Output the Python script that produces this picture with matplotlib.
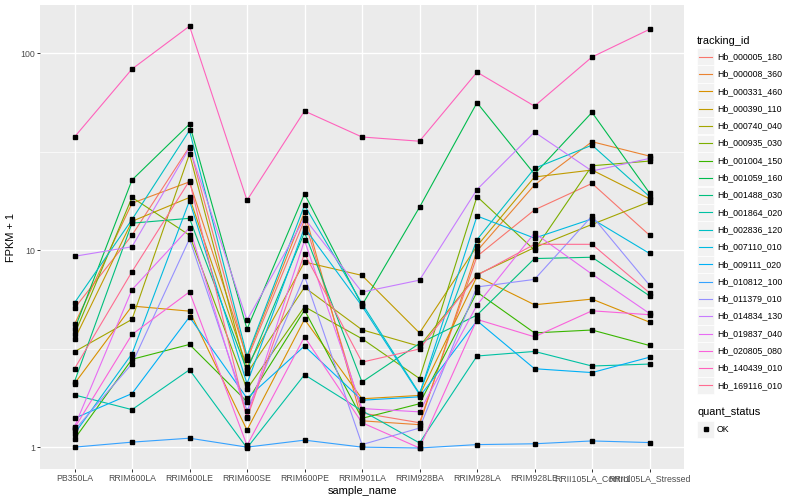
import matplotlib.pyplot as plt
from matplotlib.patches import Rectangle
from matplotlib.lines import Line2D
from matplotlib.ticker import FixedLocator, NullFormatter

plt.rcParams['font.family'] = ['Liberation Sans', 'DejaVu Sans']

samples = ['PB350LA', 'RRIM600LA', 'RRIM600LE', 'RRIM600SE', 'RRIM600PE', 'RRIM901LA',
           'RRIM928BA', 'RRIM928LA', 'RRIM928LE', 'RRII105LA_Control', 'RRII105LA_Stressed']

# FPKM + 1 per gene, in sample order
hb_000005_180 = [5.07, 11.9, 33.5, 2.77, 14.2, 1.49, 1.33, 9.3, 16, 21.8, 11.9]
hb_000008_360 = [4.2, 17.3, 22.2, 2.85, 15.6, 1.36, 1.30, 9.9, 21.4, 35.5, 30]
hb_000331_460 = [2.1, 5.2, 4.9, 1.22, 4.45, 1.76, 1.83, 7.35, 5.28, 5.64, 4.31]
hb_000390_110 = [3.52, 14.0, 18.5, 2.55, 8.7, 7.44, 3.8, 10.5, 23.5, 25.5, 18.2]
hb_000740_040 = [3.05, 4.45, 30.8, 2.37, 6.47, 3.94, 3.25, 7.5, 10.3, 13.5, 17.6]
hb_000935_030 = [3.74, 18.5, 11.9, 1.97, 5.16, 3.55, 2.23, 18.7, 10.0, 26.8, 28.3]
hb_001004_150 = [1.10, 2.79, 3.32, 1.70, 4.96, 1.40, 1.66, 6.12, 3.8, 3.93, 3.28]
hb_001059_160 = [3.96, 22.7, 43.6, 3.97, 19.3, 5.25, 16.5, 56, 24.3, 50, 19.5]
hb_001488_030 = [2.15, 13.7, 14.5, 2.45, 12.3, 2.14, 3.36, 4.68, 9.06, 9.2, 5.86]
hb_001864_020 = [1.84, 1.55, 2.47, 0.99, 2.33, 1.53, 1.05, 2.9, 3.06, 2.58, 2.64]
hb_002836_120 = [5.4, 14.3, 40.5, 2.9, 16.9, 5.36, 1.87, 11.3, 26, 34.1, 18.7]
hb_007110_010 = [1.17, 2.98, 17.8, 2.1, 13.0, 5.2, 1.85, 14.9, 11.5, 14.4, 9.62]
hb_009111_020 = [1.40, 1.87, 4.58, 1.77, 3.26, 1.73, 1.80, 4.38, 2.5, 2.39, 2.86]
hb_010812_100 = [1.0, 1.06, 1.11, 1.0, 1.085, 1.0, 0.99, 1.03, 1.04, 1.075, 1.055]
hb_011379_010 = [1.22, 2.65, 11.4, 1.53, 7.38, 1.03, 1.25, 6.5, 7.1, 14.9, 6.64]
hb_014834_130 = [9.3, 10.4, 33.0, 4.41, 14.5, 6.12, 7.04, 20.3, 39.7, 25.2, 29.2]
hb_019837_040 = [1.27, 6.3, 13.0, 1.43, 11.2, 1.57, 1.51, 5.26, 12.2, 7.55, 4.77]
hb_020805_080 = [1.25, 3.73, 6.14, 1.02, 3.63, 1.33, 0.99, 4.45, 3.63, 4.92, 4.7]
hb_140439_010 = [37.5, 83, 137, 17.9, 50.8, 37.5, 35.7, 80, 53.8, 95.5, 132]
hb_169116_010 = [2.5, 7.77, 22.5, 1.40, 9.6, 2.7, 3.15, 7.45, 10.7, 10.7, 6.07]

tracking_ids = ['Hb_000005_180', 'Hb_000008_360', 'Hb_000331_460', 'Hb_000390_110',
                'Hb_000740_040', 'Hb_000935_030', 'Hb_001004_150', 'Hb_001059_160',
                'Hb_001488_030', 'Hb_001864_020', 'Hb_002836_120', 'Hb_007110_010',
                'Hb_009111_020', 'Hb_010812_100', 'Hb_011379_010', 'Hb_014834_130',
                'Hb_019837_040', 'Hb_020805_080', 'Hb_140439_010', 'Hb_169116_010']
series = [hb_000005_180, hb_000008_360, hb_000331_460, hb_000390_110, hb_000740_040,
          hb_000935_030, hb_001004_150, hb_001059_160, hb_001488_030, hb_001864_020,
          hb_002836_120, hb_007110_010, hb_009111_020, hb_010812_100, hb_011379_010,
          hb_014834_130, hb_019837_040, hb_020805_080, hb_140439_010, hb_169116_010]

# ggplot hue palette, 20 colours
colors = ['#F8766D', '#EA8331', '#D89000', '#C09B00', '#A3A500', '#7CAE00', '#39B600',
          '#00BB4E', '#00BF7D', '#00C1A3', '#00BFC4', '#00BAE0', '#00B0F6', '#35A2FF',
          '#9590FF', '#C77CFF', '#E76BF3', '#FA62DB', '#FF62BC', '#FF6C91']

W, H = 800, 500
fig = plt.figure(figsize=(8, 5), dpi=100)
ax = fig.add_axes([40 / W, 31 / H, 644 / W, 464 / H])
ax.set_facecolor('#EBEBEB')
for s in ax.spines.values():
    s.set_visible(False)

x = list(range(len(samples)))
for vals, col in zip(series, colors):
    ax.plot(x, vals, color=col, lw=0.8, zorder=2)
for vals in series:
    ax.plot(x, vals, linestyle='none', marker='s', ms=2.5, color='black', zorder=3)

ax.set_yscale('log')
ax.set_ylim(10 ** -0.111, 10 ** 2.244)
ax.set_xlim(-0.6, len(samples) - 0.4)
ax.yaxis.set_major_locator(FixedLocator([1, 10, 100]))
ax.yaxis.set_minor_locator(FixedLocator([10 ** 0.5, 10 ** 1.5]))
ax.yaxis.set_minor_formatter(NullFormatter())
ax.set_yticklabels(['1', '10', '100'])
ax.set_xticks(x)
ax.set_xticklabels(samples)

ax.grid(which='major', color='white', lw=1.0)
ax.grid(which='minor', axis='y', color='white', lw=0.5)
ax.set_axisbelow(True)
ax.tick_params(which='major', length=2, width=0.7, color='#333333',
               labelsize=6.3, labelcolor='#4D4D4D', pad=1.5)
ax.tick_params(which='minor', length=0)

ax.set_xlabel('sample_name', fontsize=7.9, labelpad=2)
ax.set_ylabel('FPKM + 1', fontsize=7.9, labelpad=3)


def fx(px):
    return px / W


def fy(py):
    return 1 - py / H


fig.text(fx(697), fy(40.7), 'tracking_id', fontsize=7.9, va='center')
for i, (name, col) in enumerate(zip(tracking_ids, colors)):
    yc = 56.7 + i * 17.3
    fig.add_artist(Rectangle((fx(697), fy(yc + 8.5)), 17 / W, 17 / H,
                             transform=fig.transFigure, facecolor='#F2F2F2',
                             edgecolor='white', lw=0.5))
    fig.add_artist(Line2D([fx(699), fx(712)], [fy(yc), fy(yc)], color=col, lw=0.8,
                          transform=fig.transFigure))
    fig.text(fx(717), fy(yc), name, fontsize=6.3, va='center')

fig.text(fx(697), fy(412), 'quant_status', fontsize=7.9, va='center')
fig.add_artist(Rectangle((fx(697), fy(429 + 8.5)), 17 / W, 17 / H,
                         transform=fig.transFigure, facecolor='#F2F2F2',
                         edgecolor='white', lw=0.5))
fig.add_artist(Line2D([fx(705.5)], [fy(429)], marker='s', ms=2.5, color='black',
                      linestyle='none', transform=fig.transFigure))
fig.text(fx(717), fy(429), 'OK', fontsize=6.3, va='center')

fig.savefig('out.png', dpi=100)
